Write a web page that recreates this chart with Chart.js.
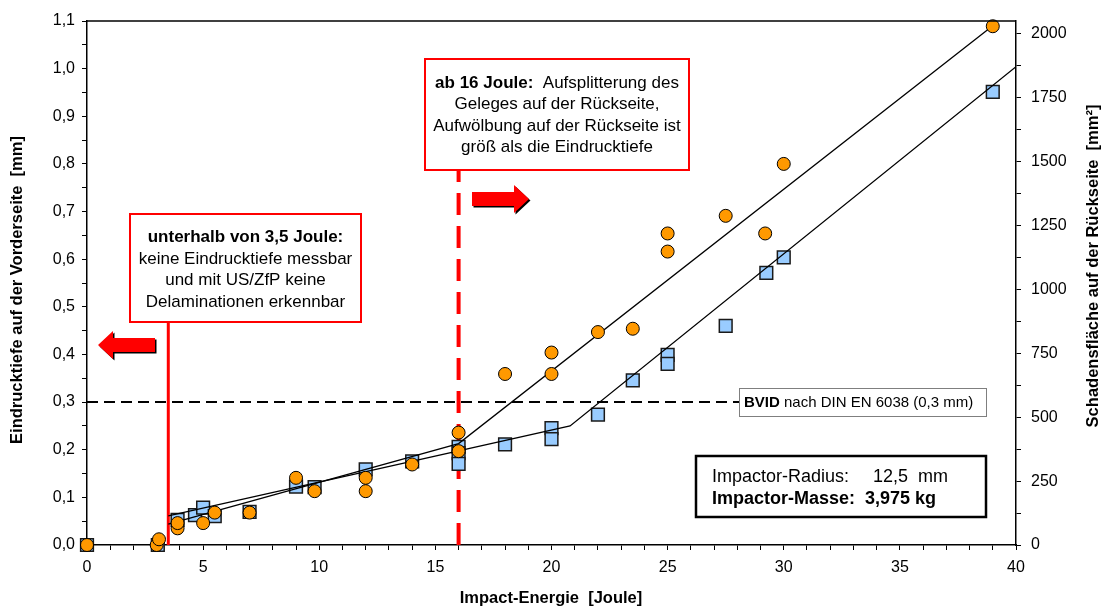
<!DOCTYPE html>
<html>
<head>
<meta charset="utf-8">
<script src="https://cdn.jsdelivr.net/npm/chart.js@4.4.0/dist/chart.umd.min.js"></script>
<style>
    html, body { margin: 0; padding: 0; background: #fff; }
</style>
</head>
<body>
<canvas id="myChart" width="1106" height="608"></canvas>
<script>
// Eindrucktiefe (orange Kreise, linke Achse, mm)
var energyOrange = [0, 3.0, 3.1, 3.9, 3.9, 5.0, 5.5, 7.0, 9.0, 9.8, 12.0, 12.0, 14.0, 16.0, 16.0, 18.0, 20.0, 20.0, 22.0, 23.5, 25.0, 25.0, 27.5, 29.2, 30.0, 39.0];
var depthOrange = [0, 0.0, 0.012, 0.035, 0.046, 0.046, 0.068, 0.068, 0.141, 0.113, 0.141, 0.113, 0.169, 0.236, 0.197, 0.359, 0.359, 0.404, 0.447, 0.454, 0.616, 0.654, 0.691, 0.654, 0.800, 1.089];

// Schadensflaeche (blaue Quadrate, rechte Achse, mm²)
var energyBlue = [0, 3.05, 3.9, 4.65, 5.0, 5.5, 7.0, 9.0, 9.8, 12.0, 14.0, 16.0, 16.0, 16.0, 18.0, 20.0, 20.0, 22.0, 23.5, 25.0, 25.0, 27.5, 29.25, 30.0, 39.0];
var areaBlue = [0, 0, 98, 117, 146, 113, 130, 228, 226, 296, 327, 384, 359, 317, 394, 457, 414, 510, 644, 744, 709, 857, 1065, 1125, 1773];

// Trendlinien
var trendDepthX = [3.5, 16, 39];
var trendDepthY = [0.044, 0.213, 1.09];
var trendAreaX = [3.5, 20.8, 40];
var trendAreaY = [114, 466, 1871];

// Achsen
var xMax = 40, xLabelStep = 5;
var depthMax = 1.1, depthLabelStep = 0.1;
var areaMax = 2050, areaLabelStep = 250;
var bvidLevel = 0.3;
var limitLow = 3.5, limitHigh = 16;

var FONT = "'Liberation Sans', Arial, sans-serif";

function pts(xs, ys) {
    return xs.map(function (x, i) { return { x: x, y: ys[i] }; });
}

Chart.defaults.font.family = FONT;
Chart.defaults.color = '#000';

function drawArrow(ctx, tipX, y, dir) {
    var shape = [[0, 0], [15, -14], [15, -7], [57, -7], [57, 7], [15, 7], [15, 14]];
    function path(dx, dy) {
        ctx.beginPath();
        shape.forEach(function (p, i) {
            var px = tipX - dir * p[0] + dx, py = y + p[1] + dy;
            if (i === 0) ctx.moveTo(px, py); else ctx.lineTo(px, py);
        });
        ctx.closePath();
    }
    ctx.fillStyle = '#000';
    path(1.5, 1.5); ctx.fill();
    ctx.fillStyle = '#ff0000';
    path(0, 0); ctx.fill();
}

function mixedLine(ctx, parts, cx, y) {
    var total = 0;
    parts.forEach(function (p) { ctx.font = p.font; p.w = ctx.measureText(p.text).width; total += p.w; });
    var x = cx - total / 2;
    ctx.textAlign = 'left';
    parts.forEach(function (p) { ctx.font = p.font; ctx.fillText(p.text, x, y); x += p.w; });
}

var annotations = {
    id: 'annotations',
    beforeDatasetsDraw: function (chart) {
        var ctx = chart.ctx, a = chart.chartArea;
        var xs = chart.scales.x, ys = chart.scales.y;
        ctx.save();
        ctx.strokeStyle = '#000';
        ctx.lineWidth = 2;
        ctx.setLineDash([11, 6]);
        var yb = ys.getPixelForValue(bvidLevel);
        ctx.beginPath(); ctx.moveTo(a.left, yb); ctx.lineTo(739, yb); ctx.stroke();

        ctx.setLineDash([]);
        ctx.strokeStyle = '#ff0000';
        ctx.lineWidth = 3;
        var x1 = xs.getPixelForValue(limitLow);
        ctx.beginPath(); ctx.moveTo(x1, a.bottom); ctx.lineTo(x1, 323); ctx.stroke();

        ctx.lineWidth = 4;
        ctx.setLineDash([22, 11]);
        var x2 = xs.getPixelForValue(limitHigh);
        ctx.beginPath(); ctx.moveTo(x2, a.bottom); ctx.lineTo(x2, 170); ctx.stroke();
        ctx.restore();
    },
    afterDraw: function (chart) {
        var ctx = chart.ctx, a = chart.chartArea;
        ctx.save();
        // oberer Rahmen
        ctx.strokeStyle = '#000';
        ctx.lineWidth = 1.5;
        ctx.beginPath(); ctx.moveTo(a.left, a.top); ctx.lineTo(a.right, a.top); ctx.stroke();

        ctx.fillStyle = '#000';
        ctx.textBaseline = 'middle';

        // Achsentitel
        ctx.font = "bold 16.5px " + FONT;
        ctx.textAlign = 'center';
        ctx.fillText('Impact-Energie  [Joule]', 551, 598);
        ctx.save();
        ctx.translate(17, 290);
        ctx.rotate(-Math.PI / 2);
        ctx.fillText('Eindrucktiefe auf der Vorderseite  [mm]', 0, 0);
        ctx.restore();
        ctx.save();
        ctx.translate(1093, 266);
        ctx.rotate(-Math.PI / 2);
        ctx.fillText('Schadensfläche auf der Rückseite  [mm²]', 0, 0);
        ctx.restore();

        // Box 1
        ctx.fillStyle = '#fff';
        ctx.fillRect(130, 214, 231, 108);
        ctx.strokeStyle = '#ff0000';
        ctx.lineWidth = 2;
        ctx.strokeRect(130, 214, 231, 108);
        ctx.fillStyle = '#000';
        ctx.textAlign = 'center';
        ctx.font = "bold 17px " + FONT;
        ctx.fillText('unterhalb von 3,5 Joule:', 245.5, 237);
        ctx.font = "17px " + FONT;
        ctx.fillText('keine Eindrucktiefe messbar', 245.5, 259);
        ctx.fillText('und mit US/ZfP keine', 245.5, 280);
        ctx.fillText('Delaminationen erkennbar', 245.5, 302);

        // Box 2
        ctx.fillStyle = '#fff';
        ctx.fillRect(425, 59, 264, 111);
        ctx.strokeStyle = '#ff0000';
        ctx.strokeRect(425, 59, 264, 111);
        ctx.fillStyle = '#000';
        mixedLine(ctx, [
            { text: 'ab 16 Joule:', font: "bold 17px " + FONT },
            { text: '  Aufsplitterung des', font: "17px " + FONT }
        ], 557, 83);
        ctx.textAlign = 'center';
        ctx.font = "17px " + FONT;
        ctx.fillText('Geleges auf der Rückseite,', 557, 104);
        ctx.fillText('Aufwölbung auf der Rückseite ist', 557, 126);
        ctx.fillText('größ als die Eindrucktiefe', 557, 147);

        // Pfeile
        drawArrow(ctx, 98, 345, -1);
        drawArrow(ctx, 529, 199, 1);

        // BVID
        ctx.fillStyle = '#fff';
        ctx.fillRect(739.5, 388.5, 247, 28);
        ctx.strokeStyle = '#7f7f7f';
        ctx.lineWidth = 1;
        ctx.strokeRect(739.5, 388.5, 247, 28);
        ctx.fillStyle = '#000';
        ctx.textAlign = 'left';
        ctx.font = "bold 15px " + FONT;
        ctx.fillText('BVID', 744, 403);
        var w = ctx.measureText('BVID').width;
        ctx.font = "15px " + FONT;
        ctx.fillText(' nach DIN EN 6038 (0,3 mm)', 744 + w, 403);

        // Impactor
        ctx.fillStyle = '#fff';
        ctx.fillRect(696, 456, 290, 61);
        ctx.strokeStyle = '#000';
        ctx.lineWidth = 2.5;
        ctx.strokeRect(696, 456, 290, 61);
        ctx.fillStyle = '#000';
        ctx.font = "18px " + FONT;
        ctx.fillText('Impactor-Radius:', 712, 477);
        ctx.fillText('12,5  mm', 873, 477);
        ctx.font = "bold 18px " + FONT;
        ctx.fillText('Impactor-Masse:  3,975 kg', 712, 499);
        ctx.restore();
    }
};

var axisGrid = { drawOnChartArea: false, drawTicks: true, tickLength: 5, color: '#000', lineWidth: 1 };
var axisBorder = { display: true, color: '#000', width: 1.5 };
var tickFont = { size: 16 };

var myChart = new Chart('myChart', {
    type: 'scatter',
    data: {
        datasets: [{
            label: 'Eindrucktiefe',
            data: pts(energyOrange, depthOrange),
            yAxisID: 'y',
            pointStyle: 'circle',
            pointRadius: 6.5,
            backgroundColor: '#ff9900',
            borderColor: '#000',
            borderWidth: 1,
            clip: false,
            order: 0
        }, {
            label: 'Trend Eindrucktiefe',
            data: pts(trendDepthX, trendDepthY),
            yAxisID: 'y',
            showLine: true,
            pointRadius: 0,
            borderColor: '#000',
            borderWidth: 1.3,
            order: 1
        }, {
            label: 'Trend Schadensfläche',
            data: pts(trendAreaX, trendAreaY),
            yAxisID: 'y2',
            showLine: true,
            pointRadius: 0,
            borderColor: '#000',
            borderWidth: 1.3,
            order: 1
        }, {
            label: 'Schadensfläche',
            data: pts(energyBlue, areaBlue),
            yAxisID: 'y2',
            pointStyle: 'rect',
            pointRadius: 9,
            backgroundColor: '#99ccff',
            borderColor: '#1a1a1a',
            borderWidth: 1.5,
            clip: false,
            order: 2
        }]
    },
    options: {
        responsive: false,
        animation: false,
        layout: { padding: { top: 21, left: 0, right: 0, bottom: 0 } },
        plugins: {
            legend: { display: false },
            tooltip: { enabled: false }
        },
        scales: {
            x: {
                type: 'linear',
                position: 'bottom',
                min: 0,
                max: xMax,
                grid: axisGrid,
                border: axisBorder,
                ticks: {
                    stepSize: 1,
                    autoSkip: false,
                    maxRotation: 0,
                    padding: 8,
                    font: tickFont,
                    callback: function (v) { return v % xLabelStep === 0 ? v : ''; }
                },
                afterFit: function (s) { s.height = 63; }
            },
            y: {
                position: 'left',
                min: 0,
                max: depthMax,
                grid: axisGrid,
                border: axisBorder,
                ticks: {
                    stepSize: depthLabelStep / 2,
                    autoSkip: false,
                    padding: 7,
                    font: tickFont,
                    callback: function (v) {
                        return Math.round(v * 20) % 2 === 0 ? v.toFixed(1).replace('.', ',') : '';
                    }
                },
                afterFit: function (s) { s.width = 87; }
            },
            y2: {
                position: 'right',
                min: 0,
                max: areaMax,
                grid: axisGrid,
                border: axisBorder,
                ticks: {
                    stepSize: areaLabelStep / 2,
                    includeBounds: false,
                    autoSkip: false,
                    padding: 10,
                    font: tickFont,
                    callback: function (v) { return v % areaLabelStep === 0 ? v : ''; }
                },
                afterFit: function (s) { s.width = 90; }
            }
        }
    },
    plugins: [annotations]
});
</script>
</body>
</html>
